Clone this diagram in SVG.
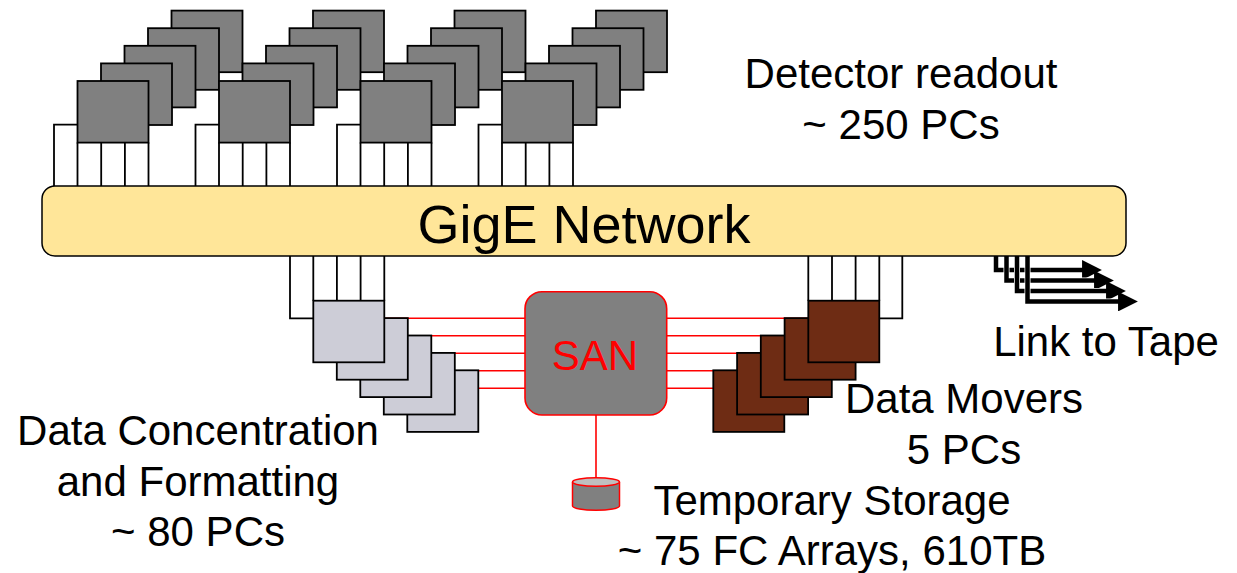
<svg xmlns="http://www.w3.org/2000/svg" width="1237" height="573" viewBox="0 0 1237 573">
<style>
.pc{fill:#808080;stroke:#000;stroke-width:1.8}
.dc{fill:#CDCDD7;stroke:#000;stroke-width:1.8}
.dm{fill:#6E2C14;stroke:#000;stroke-width:1.8}
.wire{fill:none;stroke:#000;stroke-width:1.8}
.fc{fill:none;stroke:#FF0000;stroke-width:1.6}
.tape{fill:none;stroke:#000;stroke-width:4.5}
.halo{fill:none;stroke:#fff;stroke-width:6}
.t{font-family:"Liberation Sans",Arial,sans-serif;font-size:42px;fill:#000;text-anchor:middle}
</style>
<defs>
<marker id="ah" viewBox="0 0 10 10" refX="3" refY="5" markerWidth="4.4" markerHeight="4.4" orient="auto" markerUnits="strokeWidth">
<path d="M0,0 L10,5 L0,10 z" fill="#000"/>
</marker>
<g id="stack">
<rect class="pc" x="94" y="-70.4" width="71" height="61.6"/>
<rect class="pc" x="70.5" y="-52.8" width="71" height="61.6"/>
<rect class="pc" x="47" y="-35.2" width="71" height="61.6"/>
<rect class="pc" x="23.5" y="-17.6" width="71" height="61.6"/>
<rect class="pc" x="0" y="0" width="71" height="61.6"/>
</g>
</defs>
<rect width="1237" height="573" fill="#fff"/>

<g id="connectors">
<path class="wire" d="M54 186V124.7H77.5M77.5 142.6V186M101.2 142.6V186M124.9 142.6V186M148.5 142.6V186"/>
<path class="wire" d="M195.5 186V124.7H219M219 142.6V186M242.7 142.6V186M266.4 142.6V186M290 142.6V186"/>
<path class="wire" d="M337 186V124.7H360.5M360.5 142.6V186M384.2 142.6V186M407.9 142.6V186M431.5 142.6V186"/>
<path class="wire" d="M478.5 186V124.7H502M502 142.6V186M525.7 142.6V186M549.4 142.6V186M573 142.6V186"/>
<path class="wire" d="M290 256V318.3H313.3M313.3 256V300.7M336.9 256V300.7M360.6 256V300.7M384.3 256V300.7"/>
<path class="wire" d="M902.3 256V318.3H879.3M808.3 256V300.7M832 256V300.7M855.6 256V300.7M879.3 256V300.7"/>
<path class="fc" d="M384.3 318.3H525M407.8 335.8H525M431.3 353.3H525M454.8 370.8H525M478.3 388.3H525"/>
<path class="fc" d="M666.7 318.3H808.3M666.7 335.8H784.6M666.7 353.3H760.8M666.7 370.8H737.1M666.7 388.3H713.3"/>
<path class="fc" d="M596 415V478"/>
<g id="tape-links">
<path class="halo" d="M996 257V270H1088"/>
<path class="tape" d="M996 256V270H1088" marker-end="url(#ah)"/>
<path class="halo" d="M1006.5 257V280.5H1100"/>
<path class="tape" d="M1006.5 256V280.5H1100" marker-end="url(#ah)"/>
<path class="halo" d="M1017 257V291H1112"/>
<path class="tape" d="M1017 256V291H1112" marker-end="url(#ah)"/>
<path class="halo" d="M1027.5 257V301.5H1124"/>
<path class="tape" d="M1027.5 256V301.5H1124" marker-end="url(#ah)"/>
</g>
</g>

<g id="detector-readout">
<use href="#stack" x="77.5" y="81"/>
<use href="#stack" x="219" y="81"/>
<use href="#stack" x="360.5" y="81"/>
<use href="#stack" x="502" y="81"/>
<text class="t" x="901" y="88">Detector readout</text>
<text class="t" x="901" y="139">~ 250 PCs</text>
</g>

<g id="gige-network">
<rect x="42" y="186" width="1084" height="70" rx="13" fill="#FFE699" stroke="#000" stroke-width="1.5"/>
<text x="584" y="243" font-family="Liberation Sans, Arial, sans-serif" font-size="54" text-anchor="middle" fill="#000">GigE Network</text>
</g>

<g id="data-concentration">
<rect class="dc" x="407.3" y="370.3" width="71" height="61.6"/>
<rect class="dc" x="383.8" y="352.9" width="71" height="61.6"/>
<rect class="dc" x="360.3" y="335.5" width="71" height="61.6"/>
<rect class="dc" x="336.8" y="318.1" width="71" height="61.6"/>
<rect class="dc" x="313.3" y="300.7" width="71" height="61.6"/>
<text class="t" x="198" y="445">Data Concentration</text>
<text class="t" x="198" y="496">and Formatting</text>
<text class="t" x="198" y="546">~ 80 PCs</text>
</g>

<g id="san">
<rect x="525" y="291.7" width="141.7" height="123.3" rx="17" fill="#808080" stroke="#FF0000" stroke-width="1.6"/>
<text x="595" y="370" font-family="Liberation Sans, Arial, sans-serif" font-size="42" text-anchor="middle" fill="#FF0000">SAN</text>
</g>

<g id="data-movers">
<rect class="dm" x="713.3" y="370.3" width="71" height="61.6"/>
<rect class="dm" x="737.1" y="352.9" width="71" height="61.6"/>
<rect class="dm" x="760.8" y="335.5" width="71" height="61.6"/>
<rect class="dm" x="784.6" y="318.1" width="71" height="61.6"/>
<rect class="dm" x="808.3" y="300.7" width="71" height="61.6"/>
<text class="t" x="964" y="413">Data Movers</text>
<text class="t" x="964" y="464">5 PCs</text>
</g>

<g id="temporary-storage">
<path d="M572.5 482V506A23.5 4.2 0 0 0 619.5 506V482" fill="#808080" stroke="#FF0000" stroke-width="1.5"/>
<ellipse cx="596" cy="482" rx="23.5" ry="4.2" fill="#BFBFBF" stroke="#FF0000" stroke-width="1.5"/>
<text class="t" x="832" y="515">Temporary Storage</text>
<text class="t" x="832" y="565">~ 75 FC Arrays, 610TB</text>
</g>

<g id="link-to-tape">
<text class="t" x="1106" y="356">Link to Tape</text>
</g>
</svg>
